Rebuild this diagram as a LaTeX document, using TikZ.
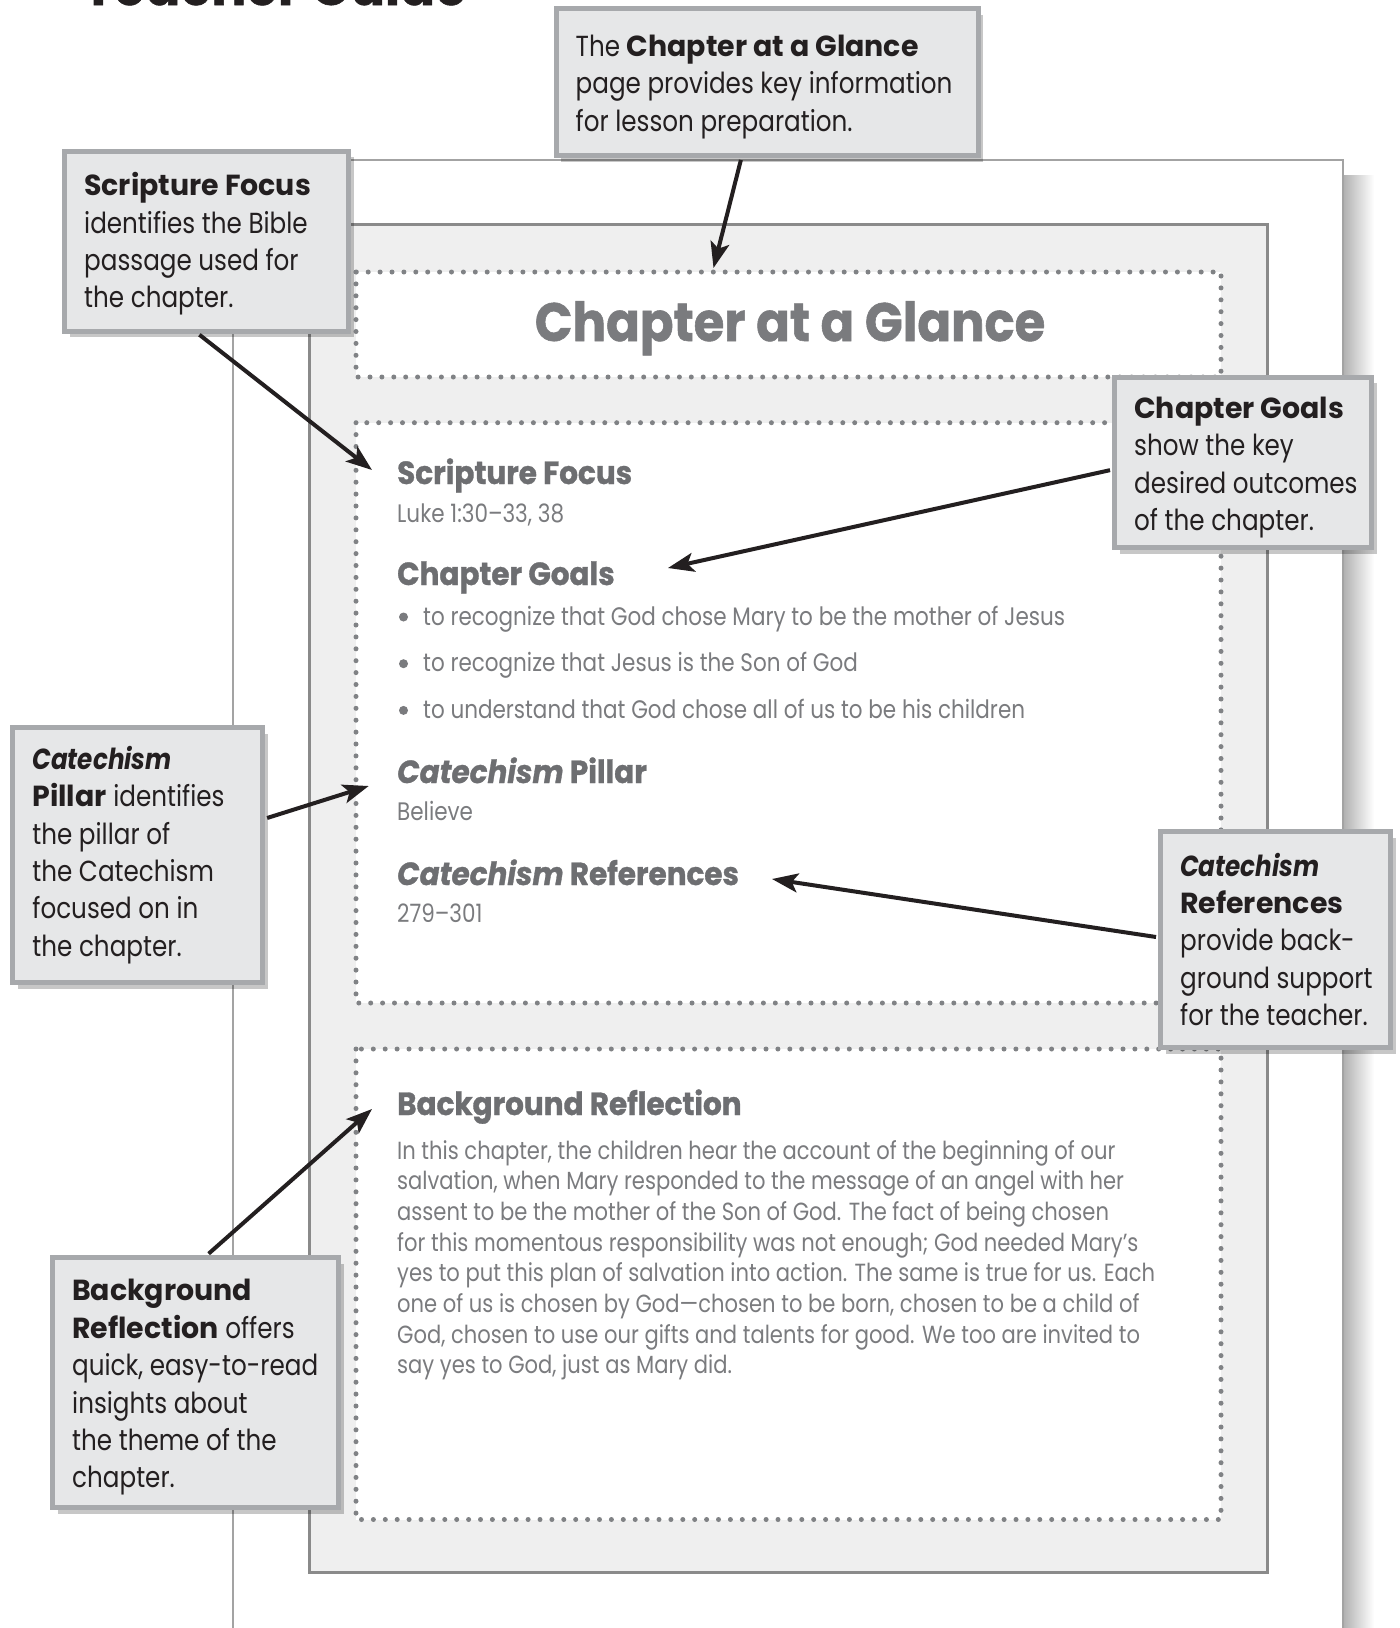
\documentclass[tikz,border=0pt]{standalone}
\usepackage{fontspec}
\setmainfont{Poppins}[FakeStretch=0.85,BoldFeatures={FakeStretch=0.98}]
\newfontfamily\headfont{Poppins}[FakeStretch=0.92,FakeBold=1]
\usepackage{xcolor}
\definecolor{calloutfill}{HTML}{E6E7E8}
\definecolor{calloutline}{HTML}{A7A9AC}
\definecolor{pagefill}{HTML}{EFEFEF}
\definecolor{pageline}{HTML}{8A8A8A}
\definecolor{backline}{HTML}{A3A3A3}
\definecolor{dotgray}{HTML}{808285}
\definecolor{headgray}{HTML}{6D6E71}
\definecolor{textgray}{HTML}{7A7B7E}
\definecolor{inkblack}{HTML}{231F20}
\usetikzlibrary{calc,positioning,arrows.meta,shadows}
\tikzset{
    callout/.style={
    rectangle,draw=calloutline,fill=calloutfill,line width=5pt,
    drop shadow={shadow xshift=5pt,shadow yshift=-6pt,fill=black,opacity=.22}
    },
    calltext/.style={inner sep=0pt,align=left,text=inkblack,font=\fontsize{29}{37.4}\selectfont},
    backpage/.style={draw=backline,line width=2pt,fill=white},
    frontpage/.style={draw=pageline,line width=3pt,fill=pagefill},
    dotbox/.style={draw=dotgray,line width=5pt,dash pattern=on 0pt off 11.9pt,line cap=round,fill=white},
    title/.style={inner sep=0pt,text=textgray,font=\headfont\bfseries\fontsize{54}{60}\selectfont},
    head/.style={anchor=base west,inner sep=0pt,text=headgray,font=\headfont\bfseries\fontsize{32}{36}\selectfont},
    body/.style={anchor=base west,inner sep=0pt,text=textgray,font=\fontsize{25.3}{28}\selectfont},
    para/.style={anchor=base west,inner sep=0pt,text=textgray,font=\fontsize{24.8}{30.7}\selectfont},
    runhead/.style={anchor=base west,inner sep=0pt,text=inkblack,font=\headfont\bfseries\fontsize{56}{60}\selectfont},
    pointer/.style={draw=inkblack,line width=4pt,shorten <=2pt,-{Stealth[length=26pt,width=19pt,inset=6pt]}},
}
\begin{document}
\begin{tikzpicture}[x=1pt,y=-1pt]
  \useasboundingbox (0,0) rectangle (1400,1628);

  % running head, cut by the page edge
  \node[runhead] (runhead) at (83,5) {Teacher Guide};

  % pages
  \shade[left color=black!30,right color=white] (1344,175) rectangle (1374,1640);
  \draw[backpage] (232.6,1640) |- (1343,160) -- (1343,1640);
  \draw[frontpage] (309.5,224.3) rectangle (1267,1572.5);

  % dotted panels
  \draw[dotbox] (356,272) rectangle (1221,377);
  \draw[dotbox] (356,422.7) rectangle (1221,1003);
  \draw[dotbox] (356,1049) rectangle (1221,1519.5);

  % page contents
  \node[title,anchor=base] (title) at (790,341) {Chapter at a Glance};

  \node[head] (hfocus) at (397,484) {Scripture Focus};
  \node[body] (luke)   at (397,522) {Luke 1:30–33, 38};
  \node[head] (hgoals) at (397,585) {Chapter Goals};
  \foreach \goal [count=\i from 0] in {
      {to recognize that God chose Mary to be the mother of Jesus},
      {to recognize that Jesus is the Son of God},
      {to understand that God chose all of us to be his children}}
  {
    \node[body] (goal\i) at (423,{625+46.7*\i}) {\goal};
    \fill[textgray] (403.5,{617+46.7*\i}) circle (4.5pt);
  }
  \node[head] (hpillar) at (397,783) {{\itshape Catechism} Pillar};
  \node[body] (believe) at (397,820) {Believe};
  \node[head] (hrefs)   at (397,885) {{\itshape Catechism} References};
  \node[body] (nums)    at (397,922) {279–301};
  \node[head] (hback)   at (397,1115) {Background Reflection};
  \foreach \ln [count=\i from 0] in {
      {In this chapter, the children hear the account of the beginning of our},
      {salvation, when Mary responded to the message of an angel with her},
      {assent to be the mother of the Son of God. The fact of being chosen},
      {for this momentous responsibility was not enough; God needed Mary’s},
      {yes to put this plan of salvation into action. The same is true for us. Each},
      {one of us is chosen by God—chosen to be born, chosen to be a child of},
      {God, chosen to use our gifts and talents for good. We too are invited to},
      {say yes to God, just as Mary did.}}
    \node[para] (line\i) at (397,{1159+30.7*\i}) {\ln};

  % callouts
  \node[callout,minimum width=422pt,minimum height=147pt] (glance) at (767,82) {};
  \node[calltext,right=22pt of glance.west,yshift=-5pt] (glancetext)
    {The \textbf{Chapter at a Glance}\\page provides key information\\for lesson preparation.};
  \node[callout,minimum width=284pt,minimum height=180pt] (focus) at (206.5,241) {};
  \node[calltext,right=22pt of focus.west,yshift=-3pt] (focustext)
    {\textbf{Scripture Focus}\\identifies the Bible\\passage used for\\the chapter.};
  \node[callout,minimum width=257pt,minimum height=170.5pt] (goals) at (1243,462.7) {};
  \node[calltext,right=22pt of goals.west,yshift=-5pt] (goalstext)
    {\textbf{Chapter Goals}\\show the key\\desired outcomes\\of the chapter.};
  \node[callout,minimum width=250pt,minimum height=255pt] (pillar) at (137.7,855) {};
  \node[calltext,right=22pt of pillar.west] (pillartext)
    {\textbf{\textit{Catechism}}\\\textbf{Pillar} identifies\\the pillar of\\the Catechism\\focused on in\\the chapter.};
  \node[callout,minimum width=230pt,minimum height=216pt] (refs) at (1275.5,939.5) {};
  \node[calltext,right=22pt of refs.west] (refstext)
    {\textbf{\textit{Catechism}}\\\textbf{References}\\provide back-\\ground support\\for the teacher.};
  \node[callout,minimum width=286pt,minimum height=250pt] (reflect) at (195.5,1382.5) {};
  \node[calltext,right=22pt of reflect.west,yshift=-5pt] (reflecttext)
    {\textbf{Background}\\\textbf{Reflection} offers\\quick, easy-to-read\\insights about\\the theme of the\\chapter.};

  % pointers
  \coordinate (tglance)  at (713.5,268);
  \coordinate (tfocus)   at (372,470);
  \coordinate (tgoals)   at (668,568);
  \coordinate (tpillar)  at (368.7,786);
  \coordinate (trefs)    at (772,879);
  \coordinate (treflect) at (372,1109);

  \draw[pointer] ($(glance.south west)!.44!(glance.south east)$) -- (tglance);
  \draw[pointer] ($(focus.south west)!.47!(focus.south east)$) -- (tfocus);
  \draw[pointer] ($(goals.north west)!.54!(goals.south west)$) -- (tgoals);
  \draw[pointer] ($(pillar.north east)!.36!(pillar.south east)$) -- (tpillar);
  \draw[pointer] ($(refs.north west)!.49!(refs.south west)$) -- (trefs);
  \draw[pointer] ($(reflect.north west)!.54!(reflect.north east)$) -- (treflect);
\end{tikzpicture}
\end{document}
